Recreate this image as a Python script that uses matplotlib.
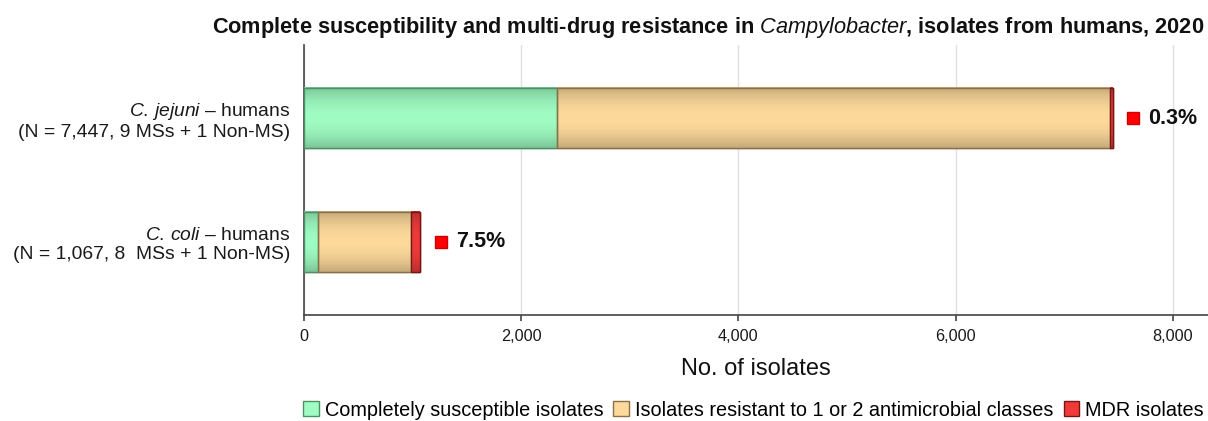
import matplotlib
matplotlib.use("Agg")
import matplotlib.pyplot as plt
import numpy as np
from matplotlib.colors import to_rgb

plt.rcParams['font.family'] = ['Liberation Sans', 'DejaVu Sans']
plt.rcParams['mathtext.fontset'] = 'custom'
plt.rcParams['mathtext.rm'] = 'Liberation Sans'
plt.rcParams['mathtext.it'] = 'Liberation Sans:italic'
plt.rcParams['mathtext.bf'] = 'Liberation Sans:bold'

categories = [r"$\mathit{C.\,jejuni}$ – humans" + "\n(N = 7,447, 9 MSs + 1 Non-MS)",
              r"$\mathit{C.\,coli}$ – humans" + "\n(N = 1,067, 8  MSs + 1 Non-MS)"]
susceptible = [2330, 129]
resistant_1_2 = [5095, 858]
mdr = [22, 80]
mdr_pct = ["0.3%", "7.5%"]
series_names = ["Completely susceptible isolates",
                "Isolates resistant to 1 or 2 antimicrobial classes",
                "MDR isolates"]
xticks = [0, 2000, 4000, 6000, 8000]

face_colors = ["#9ffcc2", "#fdd99b", "#f03a3a"]
edge_colors = ["#4f8f66", "#8a7048", "#7a1414"]

W, H = 1208, 421
fig = plt.figure(figsize=(W / 100, H / 100), dpi=100)
ax = fig.add_axes([304 / W, 1 - 315 / H, (1208 - 304) / W, (315 - 45) / H])

y = np.arange(len(categories))
height = 0.49
lefts = np.zeros(len(categories))
all_bars = []
for vals, fc, ec, name in zip([susceptible, resistant_1_2, mdr], face_colors, edge_colors, series_names):
    bars = ax.barh(y, vals, left=lefts, height=height, color=fc, edgecolor=ec,
                   linewidth=1.0, label=name, zorder=3)
    all_bars.append((bars, fc))
    lefts = lefts + np.array(vals)

# gradient shading on bars
prof = np.linspace(-1, 1, 64)
shade = 1 - 0.22 * np.abs(prof) ** 2
for bars, fc in all_bars:
    base = np.array(to_rgb(fc))
    img = np.clip(base[None, None, :] * shade[:, None, None], 0, 1)
    for p in bars:
        x0, y0 = p.get_x(), p.get_y()
        w, h = p.get_width(), p.get_height()
        ax.imshow(img, extent=(x0, x0 + w, y0 + h, y0), aspect='auto',
                  zorder=3.5, interpolation='bilinear')
        rect = plt.Rectangle((x0, y0), w, h, facecolor='none',
                             edgecolor=p.get_edgecolor(), linewidth=1.0, zorder=4)
        ax.add_patch(rect)

# MDR percentage labels
totals = lefts
for yi, tot, lab in zip(y, totals, mdr_pct):
    ax.plot([tot + 190], [yi], marker='s', markersize=9, color='#ff0000',
            markeredgecolor='#cc0000', linestyle='none', zorder=5, clip_on=False)
    ax.text(tot + 330, yi, lab, va='center', ha='left', fontsize=15.5,
            fontweight='bold', color='#111111', zorder=5)

ax.set_xlim(0, 8324)
ax.set_ylim(1.59, -0.59)
ax.set_yticks(y)
ax.set_yticklabels(categories, fontsize=13.9, color='#1a1a1a', linespacing=1.15)
ax.set_xticks(xticks)
ax.set_xticklabels([f"{v:,}" for v in xticks], fontsize=11.7, color='#1a1a1a')
ax.tick_params(axis='y', length=0, pad=10)
ax.tick_params(axis='x', length=4, width=1.2, color='#444444', pad=6)
ax.xaxis.grid(True, color='#e0e0e0', linewidth=1, zorder=0)
ax.set_axisbelow(True)
for s in ['top', 'right']:
    ax.spines[s].set_visible(False)
for s in ['left', 'bottom']:
    ax.spines[s].set_color('#444444')
    ax.spines[s].set_linewidth(1.2)

ax.set_xlabel("No. of isolates", fontsize=17, color='#111111', labelpad=10)

fig.text(1204 / W, 1 - 28 / H,
         r"Complete susceptibility and multi-drug resistance in $\mathbf{\mathit{Campylobacter}}$, isolates from humans, 2020",
         ha='right', va='center', fontsize=15.7, fontweight='bold', color='#111111')

handles = [plt.Rectangle((0, 0), 1, 1, facecolor=fc, edgecolor=ec) for fc, ec in zip(face_colors, edge_colors)]
fig.legend(handles, series_names, loc='center right', bbox_to_anchor=(1206 / W, 1 - 410 / H),
           ncol=3, frameon=False, fontsize=14.3, handlelength=0.8, handleheight=0.8,
           handletextpad=0.3, columnspacing=0.5, borderaxespad=0, borderpad=0.1)

fig.savefig("out.png", dpi=100)
